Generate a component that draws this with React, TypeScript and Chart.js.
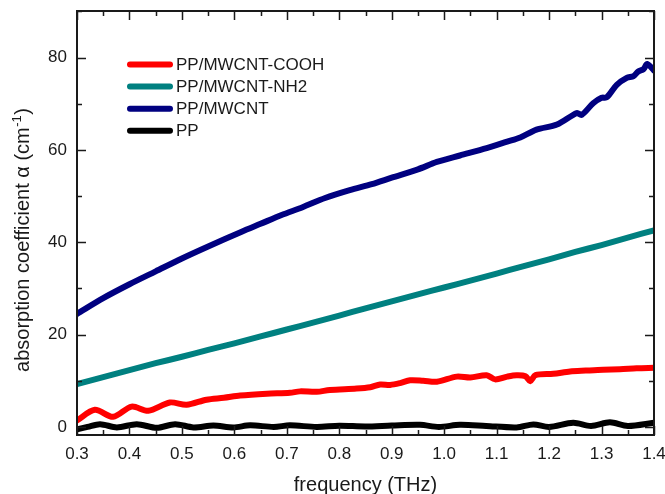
import React, { useEffect, useRef } from "react";
import { Chart, registerables } from "chart.js";

Chart.register(...registerables);

// ---- data ----
const seriesLabels = ["PP/MWCNT-COOH", "PP/MWCNT-NH2", "PP/MWCNT", "PP"];
const seriesColors = ["#ff0000", "#008080", "#000080", "#000000"];

const coohX = [0.3, 0.334, 0.369, 0.404, 0.436, 0.477, 0.509, 0.547, 0.58, 0.611, 0.662, 0.706, 0.725, 0.757, 0.782, 0.833, 0.859, 0.878, 0.897, 0.916, 0.935, 0.96, 0.986, 1.024, 1.05, 1.081, 1.097, 1.12, 1.138, 1.155, 1.164, 1.174, 1.208, 1.24, 1.27, 1.303, 1.335, 1.367, 1.4];
const coohY = [1.4, 3.7, 2.2, 4.4, 3.5, 5.3, 4.8, 5.9, 6.3, 6.8, 7.2, 7.4, 7.7, 7.6, 8.0, 8.3, 8.6, 9.2, 9.1, 9.5, 10.1, 10.0, 9.8, 10.9, 10.7, 11.2, 10.3, 10.9, 11.2, 11.0, 9.9, 11.2, 11.5, 12.0, 12.2, 12.4, 12.5, 12.7, 12.8];

const nh2X = [0.3, 0.35, 0.4, 0.45, 0.5, 0.55, 0.6, 0.65, 0.7, 0.75, 0.8, 0.85, 0.9, 0.95, 1.0, 1.05, 1.1, 1.15, 1.2, 1.25, 1.3, 1.35, 1.4];
const nh2Y = [9.3, 10.8, 12.3, 13.8, 15.2, 16.7, 18.1, 19.6, 21.1, 22.6, 24.1, 25.7, 27.2, 28.7, 30.2, 31.7, 33.2, 34.8, 36.3, 37.9, 39.4, 41.0, 42.6];

const mwcntX = [0.3, 0.35, 0.4, 0.45, 0.5, 0.55, 0.614, 0.65, 0.69, 0.73, 0.773, 0.82, 0.862, 0.9, 0.95, 0.986, 1.03, 1.081, 1.12, 1.145, 1.176, 1.215, 1.253, 1.262, 1.284, 1.3, 1.31, 1.329, 1.348, 1.361, 1.37, 1.38, 1.387, 1.4];
const mwcntY = [24.5, 27.9, 30.9, 33.7, 36.5, 39.1, 42.3, 44.0, 45.9, 47.6, 49.6, 51.3, 52.6, 54.0, 55.8, 57.4, 58.8, 60.4, 61.8, 62.7, 64.4, 65.5, 68.0, 67.6, 70.1, 71.3, 71.4, 74.1, 75.6, 76.0, 77.0, 77.5, 78.6, 77.2];

const ppX = [0.3, 0.32, 0.344, 0.376, 0.414, 0.452, 0.487, 0.522, 0.56, 0.598, 0.63, 0.675, 0.706, 0.757, 0.8, 0.85, 0.9, 0.954, 0.99, 1.03, 1.08, 1.138, 1.17, 1.2, 1.246, 1.28, 1.316, 1.35, 1.4];
const ppY = [-0.5, 0.0, 0.6, -0.1, 0.6, -0.2, 0.6, -0.1, 0.3, -0.1, 0.35, 0.0, 0.35, 0.0, 0.25, 0.1, 0.3, 0.45, 0.0, 0.45, 0.2, -0.1, 0.55, 0.0, 0.9, 0.2, 1.0, 0.2, 0.9];

const xTickValues = [0.3, 0.4, 0.5, 0.6, 0.7, 0.8, 0.9, 1.0, 1.1, 1.2, 1.3, 1.4];
const xMinorValues = [0.35, 0.45, 0.55, 0.65, 0.75, 0.85, 0.95, 1.05, 1.15, 1.25, 1.35];
const yTickValues = [0, 20, 40, 60, 80];
const yMinorValues = [10, 30, 50, 70, 90];

const xTitle = "frequency (THz)";
const yTitleMain = "absorption coefficient \u03b1 (cm";
const yTitleSup = "-1";
const yTitleEnd = ")";

const FONT = "'Liberation Sans', Arial, sans-serif";
const INK = "#1a1a1a";

const toPoints = (xs: number[], ys: number[]) => xs.map((x, i) => ({ x, y: ys[i] }));

const framePlugin = {
  id: "frameAndDecor",
  afterDatasetsDraw(chart: any) {
    const { ctx, chartArea, scales } = chart;
    const xs = scales.x;
    const ys = scales.y;
    const { left, right, top, bottom } = chartArea;
    ctx.save();
    // frame
    ctx.strokeStyle = INK;
    ctx.lineWidth = 2;
    ctx.strokeRect(left, top, right - left, bottom - top);
    // ticks (inward, all four sides)
    ctx.lineWidth = 1.5;
    const major = 9;
    const minor = 5;
    ctx.beginPath();
    const xTick = (v: number, len: number) => {
      const px = Math.round(xs.getPixelForValue(v)) + 0.5;
      ctx.moveTo(px, bottom);
      ctx.lineTo(px, bottom - len);
      ctx.moveTo(px, top);
      ctx.lineTo(px, top + len);
    };
    const yTick = (v: number, len: number) => {
      const py = Math.round(ys.getPixelForValue(v)) + 0.5;
      ctx.moveTo(left, py);
      ctx.lineTo(left + len, py);
      ctx.moveTo(right, py);
      ctx.lineTo(right - len, py);
    };
    xTickValues.forEach((v) => xTick(v, major));
    xMinorValues.forEach((v) => xTick(v, minor));
    yTickValues.forEach((v) => yTick(v, major));
    yMinorValues.forEach((v) => yTick(v, minor));
    ctx.stroke();

    // legend
    const rowY0 = 64.5;
    const rowStep = 22.1;
    chart.data.datasets.forEach((ds: any, i: number) => {
      const y = rowY0 + i * rowStep;
      ctx.strokeStyle = ds.borderColor;
      ctx.lineWidth = 6;
      ctx.lineCap = "round";
      ctx.beginPath();
      ctx.moveTo(130, y);
      ctx.lineTo(170, y);
      ctx.stroke();
      ctx.fillStyle = INK;
      ctx.font = `17px ${FONT}`;
      ctx.textAlign = "left";
      ctx.textBaseline = "middle";
      ctx.fillText(ds.label, 176, y + 1);
    });

    // x title
    ctx.fillStyle = INK;
    ctx.font = `20px ${FONT}`;
    ctx.textAlign = "center";
    ctx.textBaseline = "alphabetic";
    ctx.fillText(xTitle, (left + right) / 2, 491);

    // y title with superscript
    ctx.save();
    ctx.translate(29, 240);
    ctx.rotate(-Math.PI / 2);
    const mainFont = `20px ${FONT}`;
    const supFont = `13px ${FONT}`;
    ctx.font = mainFont;
    const w1 = ctx.measureText(yTitleMain).width;
    const w3 = ctx.measureText(yTitleEnd).width;
    ctx.font = supFont;
    const w2 = ctx.measureText(yTitleSup).width;
    const total = w1 + w2 + w3 + 1;
    let cx = -total / 2;
    ctx.textAlign = "left";
    ctx.font = mainFont;
    ctx.fillText(yTitleMain, cx, 0);
    cx += w1;
    ctx.font = supFont;
    ctx.fillText(yTitleSup, cx + 0.5, -8);
    cx += w2 + 1;
    ctx.font = mainFont;
    ctx.fillText(yTitleEnd, cx, 0);
    ctx.restore();

    ctx.restore();
  },
};

export default function App() {
  const canvasRef = useRef<HTMLCanvasElement | null>(null);

  useEffect(() => {
    if (!canvasRef.current) return;
    const datasets = [
      toPoints(coohX, coohY),
      toPoints(nh2X, nh2Y),
      toPoints(mwcntX, mwcntY),
      toPoints(ppX, ppY),
    ].map((pts, i) => ({
      label: seriesLabels[i],
      data: pts,
      borderColor: seriesColors[i],
      backgroundColor: seriesColors[i],
      borderWidth: 6,
      pointRadius: 0,
      tension: 0.3,
      fill: false,
      clip: 0,
      borderCapStyle: "round" as const,
      borderJoinStyle: "round" as const,
    }));

    const chart = new Chart(canvasRef.current, {
      type: "line",
      data: { datasets },
      options: {
        animation: false,
        responsive: false,
        maintainAspectRatio: false,
        layout: { padding: { top: 11, right: 11, left: 0, bottom: 0 } },
        plugins: {
          legend: { display: false },
          tooltip: { enabled: false },
        },
        scales: {
          x: {
            type: "linear",
            min: 0.3,
            max: 1.4,
            grid: { display: false, drawTicks: false },
            border: { display: false },
            afterBuildTicks: (scale: any) => {
              scale.ticks = xTickValues.map((v) => ({ value: v }));
            },
            afterFit: (scale: any) => {
              scale.height = 59;
              scale.paddingLeft = 0;
              scale.paddingRight = 0;
            },
            ticks: {
              padding: 9,
              color: INK,
              font: { family: FONT, size: 17 },
              callback: (v: any) => Number(v).toFixed(1),
              maxRotation: 0,
              autoSkip: false,
            },
          },
          y: {
            type: "linear",
            min: -1.75,
            max: 90.1,
            grid: { display: false, drawTicks: false },
            border: { display: false },
            afterBuildTicks: (scale: any) => {
              scale.ticks = yTickValues.map((v) => ({ value: v }));
            },
            afterFit: (scale: any) => {
              scale.width = 77;
              scale.paddingTop = 0;
              scale.paddingBottom = 0;
            },
            ticks: {
              padding: 10,
              color: INK,
              font: { family: FONT, size: 17 },
              callback: (v: any) => String(v),
              autoSkip: false,
            },
          },
        },
      },
      plugins: [framePlugin],
    });
    return () => chart.destroy();
  }, []);

  return (
    <div style={{ position: "absolute", left: 0, top: 0, width: 665, height: 494, background: "#fff" }}>
      <canvas ref={canvasRef} width={665} height={494} style={{ display: "block" }} />
    </div>
  );
}
